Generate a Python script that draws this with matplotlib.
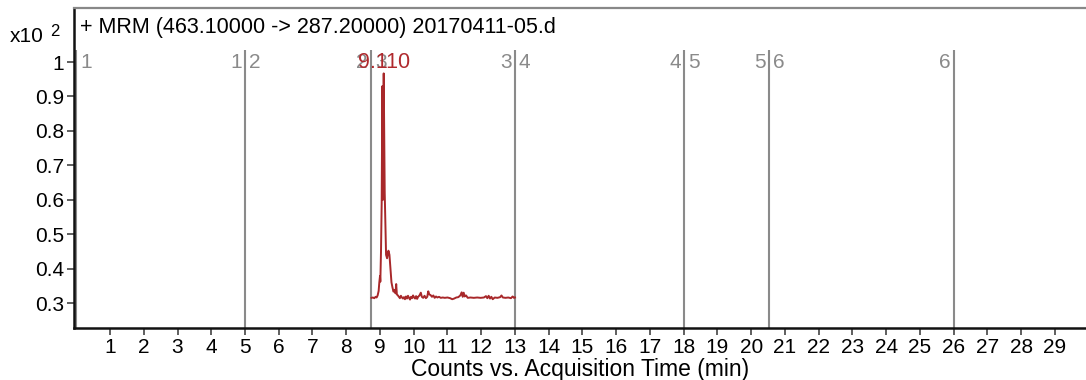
import matplotlib
matplotlib.use("Agg")
import matplotlib.pyplot as plt
from matplotlib.transforms import offset_copy

plt.rcParams['font.family'] = ['Liberation Sans', 'DejaVu Sans']

# Chromatogram trace (acquisition time in min, counts x10^2)
time_min = [8.75, 8.79, 8.83, 8.87, 8.90, 8.93, 8.96, 8.98, 9.00, 9.01,
            9.03, 9.05, 9.07, 9.09, 9.11, 9.14, 9.18, 9.21, 9.25, 9.28,
            9.31, 9.34, 9.37, 9.40, 9.43, 9.46, 9.48, 9.50, 9.53, 9.56,
            9.59, 9.62, 9.65, 9.68, 9.71, 9.74, 9.77, 9.80, 9.83, 9.86,
            9.89, 9.92, 9.95, 9.98, 10.01, 10.04, 10.07, 10.10, 10.13, 10.17,
            10.21, 10.24, 10.28, 10.32, 10.36, 10.40, 10.43, 10.46, 10.50, 10.54,
            10.58, 10.62, 10.66, 10.70, 10.75, 10.80, 10.86, 10.92, 11.00, 11.08,
            11.14, 11.20, 11.26, 11.32, 11.38, 11.42, 11.45, 11.48, 11.51, 11.55,
            11.60, 11.68, 11.78, 11.88, 11.98, 12.08, 12.14, 12.18, 12.22, 12.26,
            12.30, 12.34, 12.40, 12.48, 12.56, 12.60, 12.64, 12.72, 12.80, 12.88,
            12.93, 12.97, 13.00]
counts = [0.315, 0.316, 0.314, 0.318, 0.316, 0.322, 0.335, 0.360, 0.378, 0.362,
          0.450, 0.590, 0.930, 0.600, 0.967, 0.620, 0.440, 0.430, 0.452, 0.440,
          0.400, 0.360, 0.345, 0.333, 0.338, 0.328, 0.355, 0.325, 0.322, 0.318,
          0.314, 0.321, 0.316, 0.313, 0.317, 0.311, 0.319, 0.313, 0.321, 0.315,
          0.310, 0.318, 0.314, 0.322, 0.316, 0.313, 0.320, 0.312, 0.318, 0.322,
          0.330, 0.318, 0.315, 0.321, 0.314, 0.318, 0.334, 0.325, 0.323, 0.318,
          0.322, 0.315, 0.319, 0.316, 0.318, 0.315, 0.316, 0.315, 0.316, 0.314,
          0.311, 0.313, 0.316, 0.317, 0.322, 0.331, 0.318, 0.330, 0.319, 0.322,
          0.315, 0.316, 0.315, 0.316, 0.315, 0.316, 0.320, 0.314, 0.321, 0.313,
          0.318, 0.311, 0.316, 0.315, 0.317, 0.322, 0.316, 0.315, 0.316, 0.314,
          0.319, 0.315, 0.316]

peak_rt = 9.11
peak_height = 0.967

# Time-segment boundaries (min)
segment_bounds = [0, 5, 8.73, 13, 18, 20.52, 26]

title = "+ MRM (463.10000 -> 287.20000) 20170411-05.d"
xlabel = "Counts vs. Acquisition Time (min)"
x_ticks = list(range(1, 30))
y_ticks = [0.3, 0.4, 0.5, 0.6, 0.7, 0.8, 0.9, 1.0]
y_ticklabels = ["0.3", "0.4", "0.5", "0.6", "0.7", "0.8", "0.9", "1"]

trace_color = "#a8282a"
seg_color = "#8a8a8a"
fs = 15

fig = plt.figure(figsize=(10.86, 3.80), dpi=100)
ax = fig.add_axes([74 / 1086, 1 - 328 / 380, 1 - 74 / 1086, 320 / 380])

ax.set_xlim(-0.067, 29.92)
ax.set_ylim(0.2274, 1.157)

# segment dividers and their numbers
seg_top = 1.035
for k, xb in enumerate(segment_bounds):
    ax.plot([xb, xb], [ax.get_ylim()[0], seg_top], color=seg_color, lw=1.5,
            zorder=1, solid_capstyle='butt')
    if k > 0:
        tr = offset_copy(ax.transData, fig=fig, x=-3, y=0, units='dots')
        ax.text(xb, 1.0, str(k), transform=tr, ha='right', va='center',
                color=seg_color, fontsize=fs, zorder=2)
    if k < len(segment_bounds) - 1:
        tr = offset_copy(ax.transData, fig=fig, x=4, y=0, units='dots')
        ax.text(xb, 1.0, str(k + 1), transform=tr, ha='left', va='center',
                color=seg_color, fontsize=fs, zorder=2)

ax.plot(time_min, counts, color=trace_color, lw=1.4, zorder=3)
ax.text(peak_rt, 1.0, f"{peak_rt:.3f}", ha='center', va='center',
        color="#b02a2e", fontsize=fs + 0.5, zorder=4)

ax.set_xticks(x_ticks)
ax.set_xticklabels([str(t) for t in x_ticks], fontsize=fs)
ax.set_yticks(y_ticks)
ax.set_yticklabels(y_ticklabels, fontsize=fs)
ax.tick_params(axis='both', direction='out', length=5, width=1.2,
               color='#444444', pad=2)
ax.set_xlabel(xlabel, fontsize=16.5, labelpad=1)

for side in ('left', 'bottom'):
    ax.spines[side].set_color('#111111')
    ax.spines[side].set_linewidth(1.8)
ax.spines['right'].set_visible(False)
ax.spines['top'].set_color('#888888')
ax.spines['top'].set_linewidth(1.6)

ax.text(80 / 1086, 1 - 28 / 380, title, transform=fig.transFigure,
        ha='left', va='center', fontsize=15.5)
fig.text(10 / 1086, 1 - 37 / 380, "x10", ha='left', va='center', fontsize=fs)
fig.text(50 / 1086, 1 - 32 / 380, "2", ha='left', va='center', fontsize=12)

fig.savefig("out.png", dpi=100)
